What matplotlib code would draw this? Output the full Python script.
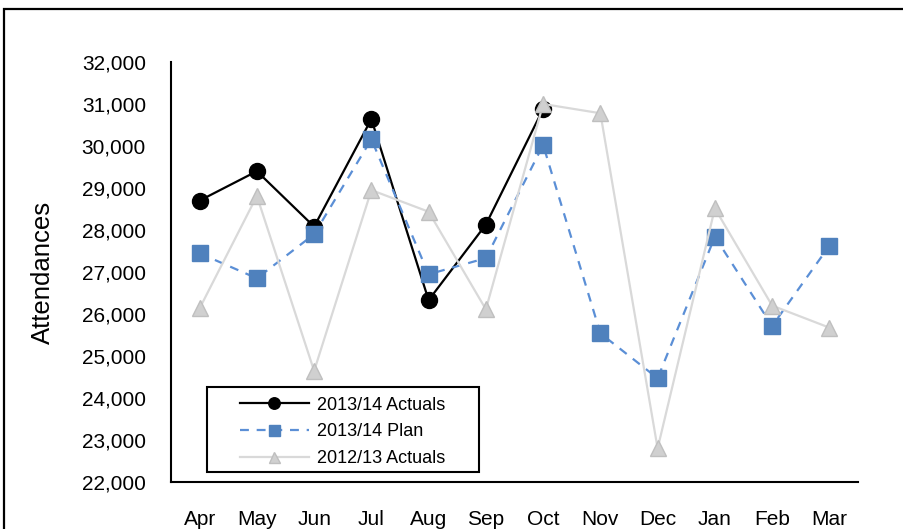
import matplotlib
matplotlib.use('Agg')
import matplotlib.pyplot as plt
from matplotlib.patches import Rectangle
from matplotlib.ticker import FuncFormatter

plt.rcParams['font.family'] = ['Liberation Sans', 'DejaVu Sans']

months = ['Apr', 'May', 'Jun', 'Jul', 'Aug', 'Sep',
          'Oct', 'Nov', 'Dec', 'Jan', 'Feb', 'Mar']
actuals_1314 = [28700, 29400, 28080, 30640, 26330, 28130, 30880]
plan_1314 = [27445, 26850, 27900, 30160, 26945, 27330,
             30025, 25540, 24470, 27840, 25715, 27625]
actuals_1213 = [26135, 28810, 24645, 28950, 28435, 26110,
                31000, 30780, 22800, 28515, 26200, 25675]

W, H = 904, 529
fig = plt.figure(figsize=(W / 100, H / 100), dpi=100)
# axes placed in pixel terms
ax_l, ax_r, ax_t, ax_b = 171, 858, 62, 482
ax = fig.add_axes([ax_l / W, 1 - ax_b / H, (ax_r - ax_l) / W, (ax_b - ax_t) / H])

x_all = list(range(len(months)))
ax.plot(x_all[:len(actuals_1314)], actuals_1314, color='black', lw=1.6,
        marker='o', ms=11.5, mfc='black', mec='black', zorder=3,
        label='2013/14 Actuals')
ax.plot(x_all, plan_1314, color='#5B8FD6', lw=1.6, ls=(0, (4, 3.5)),
        marker='s', ms=11, mfc='#4F81BD', mec='#4F81BD', zorder=4,
        label='2013/14 Plan')
ax.plot(x_all, actuals_1213, color='#D9D9D9', lw=1.6,
        marker='^', ms=11, mfc='#D0D0D0', mec='#BFBFBF', mew=1, zorder=5,
        label='2012/13 Actuals')

ax.set_xlim(-0.5, len(months) - 0.5)
ax.set_ylim(22000, 32000)
ax.set_yticks(range(22000, 32001, 1000))
ax.yaxis.set_major_formatter(FuncFormatter(lambda v, p: '{:,.0f}'.format(v)))
ax.set_xticks(x_all)
ax.set_xticklabels(months)
ax.tick_params(axis='y', length=0, pad=18, labelsize=15)
ax.tick_params(axis='x', length=0, pad=20, labelsize=15)
ax.set_ylabel('Attendances', fontsize=18.5, labelpad=19)

for side in ['top', 'right']:
    ax.spines[side].set_visible(False)
for side in ['left', 'bottom']:
    ax.spines[side].set_linewidth(1.5)
    ax.spines[side].set_color('black')

# legend box
aw, ah = ax_r - ax_l, ax_b - ax_t
ax.add_patch(Rectangle(((207 - ax_l) / aw, (ax_b - 472) / ah), 272 / aw, 85 / ah,
                       transform=ax.transAxes, fill=False, ec='black', lw=1.5,
                       zorder=6))
ax.add_patch(Rectangle(((207 - ax_l) / aw, (ax_b - 472) / ah), 272 / aw, 85 / ah,
                       transform=ax.transAxes, fill=True, fc='white', ec='none',
                       zorder=5.5))
leg = ax.legend(loc='center left', bbox_to_anchor=((240 - ax_l) / aw, (ax_b - 432) / ah),
                frameon=False, fontsize=13, borderpad=0, borderaxespad=0,
                handlelength=3.8, handletextpad=0.45, labelspacing=0.55,
                markerscale=0.72)
leg.set_zorder(7)

# outer frame
fig.add_artist(Rectangle((4.5 / W, -0.1), 1.2, 1.1 - 8.5 / H,
                         transform=fig.transFigure, fill=False, ec='black', lw=1.6))

fig.savefig('out.png', dpi=100)
